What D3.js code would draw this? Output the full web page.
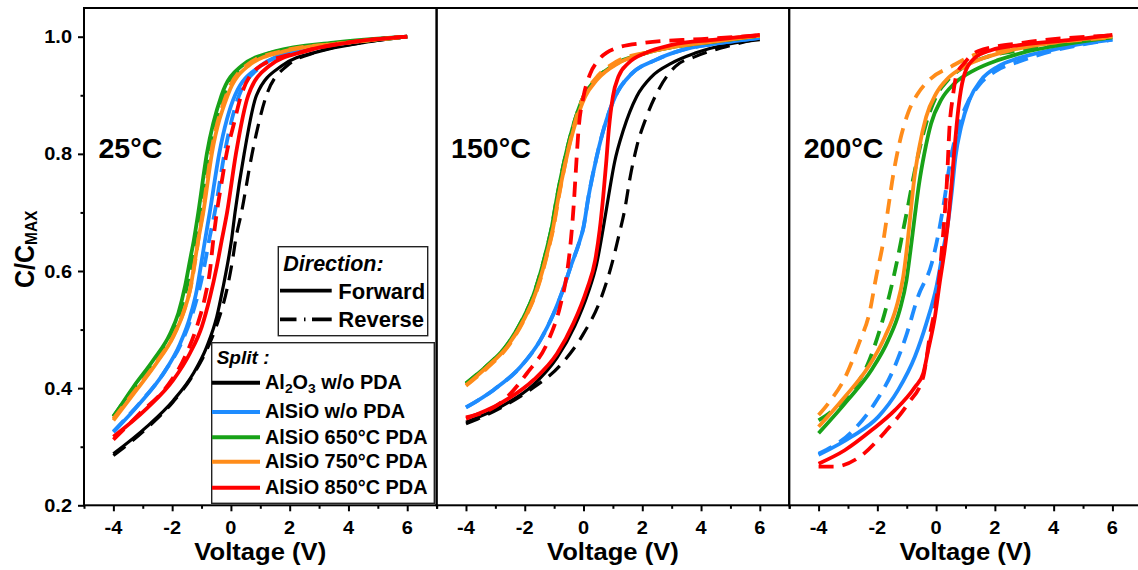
<!DOCTYPE html>
<html><head><meta charset="utf-8">
<script src="https://cdn.jsdelivr.net/npm/d3@7/dist/d3.min.js"></script>
<style>body{margin:0;background:#fff}svg{display:block}</style>
</head><body><svg id="c" width="1138" height="570"></svg>
<script>
// ---------- tick / label data ----------
const xTicksMajor = [-4, -2, 0, 2, 4, 6];
const xTicksMinor = [-5, -3, -1, 1, 3, 5, 7];
const yTicksMajor = [0.2, 0.4, 0.6, 0.8, 1.0];
const yTicksMinor = [0.3, 0.5, 0.7, 0.9];
const temps = ["25°C", "150°C", "200°C"];
const splits = ["Al2O3 w/o PDA", "AlSiO w/o PDA", "AlSiO 650°C PDA", "AlSiO 750°C PDA", "AlSiO 850°C PDA"];
const directions = ["Forward", "Reverse"];
const colors = ["#000000", "#1e8cff", "#18a218", "#ff8c1a", "#ff0000"];

// ---------- 25 °C : [V, C/Cmax] ----------
const t25_Al2O3_fwd = [[-4,0.288],[-2.87,0.334],[-1.96,0.379],[-1.28,0.425],[-0.82,0.471],[-0.48,0.522],[-0.26,0.574],[-0.09,0.619],[0.02,0.653],[0.14,0.7],[0.45,0.8],[0.87,0.9],[1.72,0.95],[3,0.975],[4.5,0.99],[6,1.0]];
const t25_Al2O3_rev = [[-4,0.285],[-2.87,0.331],[-1.96,0.377],[-1.28,0.423],[-0.78,0.47],[-0.4,0.52],[-0.12,0.572],[0.06,0.62],[0.16,0.653],[0.36,0.7],[0.72,0.8],[1.21,0.9],[1.9,0.95],[3,0.975],[4.5,0.99],[6,1.0]];
const t25_noPDA_fwd = [[-4,0.325],[-3.1,0.374],[-2.3,0.425],[-1.73,0.476],[-1.39,0.522],[-1.16,0.568],[-0.99,0.619],[-0.88,0.653],[-0.72,0.7],[-0.4,0.8],[0.14,0.9],[1.0,0.95],[2.2,0.975],[4,0.99],[6,1.0]];
const t25_noPDA_rev = [[-4,0.326],[-3.08,0.376],[-2.27,0.427],[-1.68,0.478],[-1.32,0.525],[-1.06,0.572],[-0.86,0.62],[-0.74,0.653],[-0.55,0.7],[-0.22,0.8],[0.28,0.9],[1.05,0.95],[2.2,0.975],[4,0.99],[6,1.0]];
const t25_650_fwd = [[-4,0.351],[-3.32,0.402],[-2.64,0.448],[-2.07,0.493],[-1.79,0.528],[-1.56,0.574],[-1.39,0.619],[-1.26,0.653],[-1.11,0.7],[-0.82,0.8],[-0.32,0.9],[0.36,0.95],[1.5,0.975],[3.5,0.99],[6,1.0]];
const t25_650_rev = [[-4,0.352],[-3.28,0.402],[-2.6,0.448],[-2.03,0.493],[-1.74,0.528],[-1.5,0.574],[-1.33,0.619],[-1.2,0.653],[-1.04,0.7],[-0.74,0.8],[-0.24,0.9],[0.42,0.95],[1.6,0.975],[4,0.99],[6,1.0]];
const t25_750_fwd = [[-4,0.345],[-3.21,0.397],[-2.53,0.443],[-1.96,0.488],[-1.62,0.528],[-1.39,0.568],[-1.22,0.619],[-1.11,0.653],[-0.94,0.7],[-0.65,0.8],[-0.11,0.9],[0.59,0.95],[1.8,0.975],[4,0.99],[6,1.0]];
const t25_750_rev = [[-4,0.348],[-3.2,0.4],[-2.5,0.447],[-1.93,0.492],[-1.6,0.532],[-1.37,0.572],[-1.2,0.622],[-1.1,0.656],[-0.96,0.7],[-0.68,0.8],[-0.16,0.9],[0.5,0.95],[1.7,0.975],[4,0.99],[6,1.0]];
const t25_850_fwd = [[-4,0.317],[-2.87,0.365],[-1.96,0.414],[-1.39,0.46],[-0.99,0.505],[-0.71,0.556],[-0.48,0.608],[-0.31,0.653],[-0.13,0.7],[0.17,0.8],[0.59,0.9],[1.3,0.95],[2.5,0.975],[4,0.99],[6,1.0]];
const t25_850_rev = [[-4,0.312],[-3.1,0.357],[-2.19,0.402],[-1.56,0.454],[-1.16,0.505],[-0.88,0.556],[-0.71,0.602],[-0.6,0.653],[-0.48,0.7],[-0.32,0.75],[-0.15,0.8],[0.08,0.847],[0.35,0.9],[1.0,0.95],[2.5,0.975],[6,1.0]];

// ---------- 150 °C ----------
const t150_Al2O3_fwd = [[-4,0.342],[-2.83,0.368],[-1.7,0.406],[-0.9,0.452],[-0.3,0.506],[0.15,0.562],[0.45,0.613],[0.66,0.67],[0.85,0.727],[1.05,0.784],[1.36,0.841],[1.81,0.898],[2.32,0.932],[3.0,0.955],[3.8,0.972],[5,0.988],[6,0.995]];
const t150_Al2O3_rev = [[-4,0.339],[-2.83,0.366],[-1.7,0.401],[-0.79,0.439],[0,0.493],[0.57,0.55],[0.97,0.613],[1.2,0.66],[1.4,0.704],[1.59,0.761],[1.81,0.812],[2.15,0.864],[2.55,0.909],[3.12,0.949],[3.8,0.966],[5,0.985],[6,0.997]];
const t150_noPDA_fwd = [[-4,0.367],[-3.06,0.397],[-2.15,0.436],[-1.47,0.482],[-1.02,0.527],[-0.72,0.565],[-0.42,0.61],[-0.17,0.645],[0,0.675],[0.17,0.727],[0.4,0.784],[0.68,0.841],[1.08,0.898],[1.64,0.937],[2.44,0.96],[3.34,0.977],[4.5,0.988],[6,0.998]];
const t150_noPDA_rev = [[-4,0.367],[-3.06,0.397],[-2.15,0.436],[-1.47,0.482],[-1.02,0.527],[-0.72,0.565],[-0.42,0.61],[-0.17,0.645],[0,0.675],[0.17,0.727],[0.4,0.784],[0.68,0.841],[1.08,0.898],[1.64,0.937],[2.44,0.96],[3.34,0.977],[4.5,0.988],[6,0.998]];
const t150_650_fwd = [[-4,0.408],[-3.34,0.436],[-2.66,0.47],[-2.09,0.516],[-1.69,0.561],[-1.41,0.607],[-1.24,0.64],[-1.1,0.67],[-0.9,0.727],[-0.67,0.784],[-0.39,0.841],[0,0.898],[0.4,0.926],[1.15,0.955],[2.1,0.972],[3.1,0.983],[4.5,0.992],[6,1.002]];
const t150_650_rev = [[-4,0.408],[-3.34,0.436],[-2.66,0.47],[-2.09,0.516],[-1.69,0.561],[-1.41,0.607],[-1.24,0.64],[-1.1,0.67],[-0.9,0.727],[-0.67,0.784],[-0.39,0.841],[0,0.898],[0.4,0.926],[1.15,0.955],[2.1,0.972],[3.1,0.983],[4.5,0.992],[6,1.002]];
const t150_750_fwd = [[-4,0.405],[-3.29,0.436],[-2.61,0.47],[-2.04,0.516],[-1.64,0.561],[-1.36,0.607],[-1.19,0.64],[-1.05,0.67],[-0.85,0.727],[-0.62,0.784],[-0.34,0.841],[0.06,0.898],[0.45,0.926],[1.19,0.955],[2.1,0.972],[3.1,0.983],[4.5,0.992],[6,1.002]];
const t150_750_rev = [[-4,0.404],[-3.29,0.434],[-2.6,0.469],[-2.03,0.516],[-1.62,0.562],[-1.34,0.608],[-1.17,0.642],[-1.03,0.672],[-0.84,0.727],[-0.62,0.784],[-0.36,0.841],[0,0.898],[0.4,0.928],[1.1,0.957],[2.1,0.973],[3.1,0.984],[6,1.002]];
const t150_850_fwd = [[-4,0.348],[-2.83,0.374],[-1.7,0.414],[-0.9,0.459],[-0.34,0.511],[0.11,0.568],[0.4,0.619],[0.55,0.67],[0.67,0.727],[0.77,0.784],[0.86,0.841],[1.0,0.898],[1.19,0.932],[1.53,0.955],[2.1,0.972],[3.0,0.986],[4.5,0.995],[6,1.003]];
const t150_850_rev = [[-4,0.35],[-2.72,0.379],[-1.93,0.425],[-1.19,0.482],[-0.79,0.541],[-0.55,0.601],[-0.42,0.658],[-0.33,0.715],[-0.26,0.772],[-0.17,0.841],[0,0.898],[0.23,0.937],[0.51,0.96],[1.08,0.98],[1.98,0.989],[4,0.996],[6,1.002]];

// ---------- 200 °C ----------
const t200_noPDA_fwd = [[-4,0.286],[-2.88,0.317],[-1.97,0.351],[-1.29,0.397],[-0.72,0.454],[-0.33,0.511],[0.01,0.573],[0.24,0.636],[0.4,0.681],[0.54,0.738],[0.66,0.795],[0.85,0.846],[1.13,0.892],[1.53,0.926],[2.1,0.949],[2.78,0.963],[4,0.978],[5,0.988],[6,0.995]];
const t200_noPDA_rev = [[-4,0.288],[-2.88,0.325],[-2.09,0.374],[-1.46,0.431],[-1.01,0.491],[-0.62,0.556],[-0.15,0.613],[0.08,0.664],[0.28,0.721],[0.47,0.784],[0.72,0.841],[1.06,0.886],[1.47,0.918],[1.98,0.94],[2.78,0.957],[4,0.976],[6,0.995]];
const t200_650_fwd = [[-4,0.323],[-3.0,0.38],[-2.2,0.431],[-1.63,0.482],[-1.24,0.533],[-1.01,0.584],[-0.87,0.636],[-0.73,0.692],[-0.58,0.749],[-0.4,0.801],[-0.17,0.852],[0.17,0.892],[0.62,0.92],[1.3,0.943],[2.1,0.96],[2.89,0.972],[4.5,0.988],[6,0.999]];
const t200_650_rev = [[-4,0.345],[-3.0,0.388],[-2.37,0.436],[-1.92,0.499],[-1.58,0.561],[-1.3,0.624],[-1.12,0.67],[-0.96,0.71],[-0.79,0.755],[-0.57,0.807],[-0.34,0.852],[0,0.898],[0.4,0.926],[0.96,0.949],[1.76,0.966],[3,0.978],[6,0.999]];
const t200_750_fwd = [[-4,0.334],[-3.11,0.385],[-2.31,0.436],[-1.75,0.487],[-1.35,0.539],[-1.12,0.59],[-0.99,0.641],[-0.87,0.698],[-0.75,0.755],[-0.57,0.812],[-0.34,0.863],[0,0.903],[0.4,0.929],[0.96,0.949],[1.76,0.966],[2.55,0.977],[4,0.99],[6,1.0]];
const t200_750_rev = [[-4,0.354],[-3.67,0.374],[-3.11,0.417],[-2.6,0.48],[-2.27,0.528],[-2.04,0.59],[-1.81,0.647],[-1.64,0.704],[-1.47,0.761],[-1.25,0.818],[-0.96,0.869],[-0.62,0.903],[-0.17,0.929],[0.51,0.949],[1.3,0.969],[2.5,0.98],[4,0.99],[6,0.999]];
const t200_850_fwd = [[-4,0.271],[-3.11,0.294],[-2.2,0.328],[-1.41,0.362],[-0.72,0.402],[-0.44,0.425],[-0.27,0.465],[-0.04,0.522],[0.12,0.579],[0.29,0.636],[0.42,0.69],[0.52,0.745],[0.61,0.8],[0.7,0.85],[0.81,0.898],[0.97,0.937],[1.3,0.963],[1.87,0.977],[2.89,0.986],[4.5,0.994],[6,1.003]];
const t200_850_rev = [[-4,0.266],[-3.45,0.266],[-2.65,0.281],[-1.69,0.328],[-0.95,0.374],[-0.44,0.419],[-0.33,0.45],[-0.22,0.488],[-0.05,0.533],[0.12,0.596],[0.25,0.67],[0.37,0.755],[0.45,0.841],[0.57,0.898],[0.68,0.932],[0.96,0.955],[1.42,0.975],[3,0.99],[6,1.002]];

// series per panel: [splitIndex, forward, reverse]
const panel25 = [[0,t25_Al2O3_fwd,t25_Al2O3_rev],[1,t25_noPDA_fwd,t25_noPDA_rev],[2,t25_650_fwd,t25_650_rev],[3,t25_750_fwd,t25_750_rev],[4,t25_850_fwd,t25_850_rev]];
const panel150 = [[0,t150_Al2O3_fwd,t150_Al2O3_rev],[1,t150_noPDA_rev,t150_noPDA_fwd],[2,t150_650_fwd,t150_650_rev],[3,t150_750_fwd,t150_750_rev],[4,t150_850_fwd,t150_850_rev]];
const panel200 = [[1,t200_noPDA_fwd,t200_noPDA_rev],[2,t200_650_fwd,t200_650_rev],[3,t200_750_fwd,t200_750_rev],[4,t200_850_fwd,t200_850_rev]];
const panels = [panel25, panel150, panel200];

// ---------- layout ----------
const FONT = "'Liberation Sans', Arial, Helvetica, sans-serif";
const svg = d3.select("#c");
const pw = 352.6, yTop = 8, yBot = 505.3;
const panelX0 = [84, 436.6, 789.2];
const y = d3.scaleLinear().domain([0.2, 1.049]).range([yBot, yTop]);

function txt(g, x, yy, s, size, sx, anchor, style) {
  return g.append("text")
    .attr("transform", `translate(${x},${yy}) scale(${sx},1)`)
    .attr("text-anchor", anchor || "start")
    .attr("font-family", FONT).attr("font-weight", "bold")
    .attr("font-style", style || "normal")
    .attr("font-size", size).attr("fill", "#000").text(s);
}

panels.forEach((series, pi) => {
  const x0 = panelX0[pi];
  const x = d3.scaleLinear().domain([-5, 7]).range([x0, x0 + pw]);
  const g = svg.append("g");

  const line = d3.line().x(d => x(d[0])).y(d => y(d[1])).curve(d3.curveMonotoneX);
  series.forEach(([si, fwd, rev]) => {
    const w = si === 0 ? 3.2 : 3.8;
    g.append("path").attr("d", line(fwd)).attr("fill", "none")
      .attr("stroke", colors[si]).attr("stroke-width", w).attr("stroke-linejoin", "round");
    g.append("path").attr("d", line(rev)).attr("fill", "none")
      .attr("stroke", colors[si]).attr("stroke-width", w).attr("stroke-dasharray", "15,9");
  });

  // frame
  g.append("rect").attr("x", x0).attr("y", yTop).attr("width", pw).attr("height", yBot - yTop)
    .attr("fill", "none").attr("stroke", "#000").attr("stroke-width", 2);

  // x axis ticks
  const axMaj = d3.axisBottom(x).tickValues(xTicksMajor).tickSize(6).tickFormat("");
  const axMin = d3.axisBottom(x).tickValues(xTicksMinor).tickSize(3.5).tickFormat("");
  [axMaj, axMin].forEach(ax => {
    const a = g.append("g").attr("transform", `translate(0,${yBot})`).call(ax);
    a.select(".domain").remove();
    a.selectAll("line").attr("stroke", "#000").attr("stroke-width", 2);
  });
  xTicksMajor.forEach(v => txt(g, x(v), 533.5, String(v), 18.5, 1.08, "middle"));
  txt(g, x0 + pw / 2, 560, "Voltage (V)", 23.5, 1.09, "middle");

  // temperature label
  txt(g, x0 + 14.5, 158, temps[pi], 28, 1.02, "start");

  if (pi === 0) {
    const ayMaj = d3.axisLeft(y).tickValues(yTicksMajor).tickSize(6).tickFormat("");
    const ayMin = d3.axisLeft(y).tickValues(yTicksMinor).tickSize(3.5).tickFormat("");
    [ayMaj, ayMin].forEach(ax => {
      const a = g.append("g").attr("transform", `translate(${x0},0)`).call(ax);
      a.select(".domain").remove();
      a.selectAll("line").attr("stroke", "#000").attr("stroke-width", 2);
    });
    yTicksMajor.forEach(v => txt(g, 72, y(v) + 6.5, v.toFixed(1), 18.5, 1.08, "end"));

    // y title
    const t = g.append("text")
      .attr("transform", "translate(33.5,288) rotate(-90) scale(1,1.1)")
      .attr("font-family", FONT).attr("font-weight", "bold").attr("fill", "#000");
    t.append("tspan").attr("font-size", 25).text("C/C");
    t.append("tspan").attr("font-size", 15.5).attr("dy", 3.5).text("MAX");

    // Direction legend
    const lg = g.append("g");
    lg.append("rect").attr("x", 278.3).attr("y", 246.7).attr("width", 149.4).attr("height", 89)
      .attr("fill", "#fff").attr("stroke", "#222").attr("stroke-width", 1.4);
    txt(lg, 283.3, 270.7, "Direction:", 21.5, 1.0, "start", "italic");
    lg.append("line").attr("x1", 280).attr("x2", 331.7).attr("y1", 290.7).attr("y2", 290.7)
      .attr("stroke", "#000").attr("stroke-width", 3.8);
    txt(lg, 338.3, 299.3, directions[0], 22, 1.0, "start");
    lg.append("line").attr("x1", 280).attr("x2", 331.7).attr("y1", 319.3).attr("y2", 319.3)
      .attr("stroke", "#000").attr("stroke-width", 3.8).attr("stroke-dasharray", "16.5,7.5,1.5,6.5,30");
    txt(lg, 338.3, 327.3, directions[1], 22, 1.0, "start");

    // Split legend
    const sg = g.append("g");
    sg.append("rect").attr("x", 211.7).attr("y", 342.7).attr("width", 222.6).attr("height", 160.6)
      .attr("fill", "#fff").attr("stroke", "#222").attr("stroke-width", 1.4);
    txt(sg, 216.7, 364, "Split :", 19, 1.0, "start", "italic");
    const ly = [382.7, 412, 437.3, 461.7, 487.7];
    splits.forEach((s, i) => {
      sg.append("line").attr("x1", 212).attr("x2", 260).attr("y1", ly[i]).attr("y2", ly[i])
        .attr("stroke", colors[i]).attr("stroke-width", 4);
      if (s.startsWith("Al2O3")) {
        const t2 = sg.append("text").attr("transform", `translate(265,${ly[i] + 5.8}) scale(1.03,1)`)
          .attr("font-family", FONT).attr("font-weight", "bold").attr("font-size", 19.3).attr("fill", "#000");
        t2.append("tspan").text("Al");
        t2.append("tspan").attr("font-size", 13.5).attr("dy", 4.5).text("2");
        t2.append("tspan").attr("dy", -4.5).text("O");
        t2.append("tspan").attr("font-size", 13.5).attr("dy", 4.5).text("3");
        t2.append("tspan").attr("dy", -4.5).text(s.slice(5));
      } else {
        txt(sg, 265, ly[i] + 6.3, s, 19.3, 1.03, "start");
      }
    });
  }
});
</script>
</body></html>
